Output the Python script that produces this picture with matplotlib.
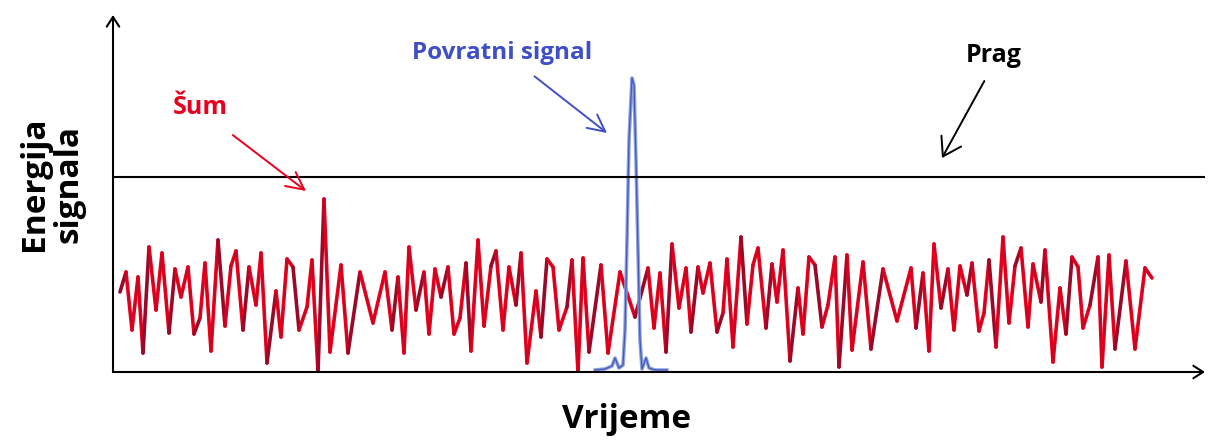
import matplotlib.pyplot as plt
from matplotlib.collections import LineCollection
import numpy as np

# vremenske točke i energija šuma (očitano sa slike)
noise_t = [7, 13, 19, 25, 30, 36, 43, 49, 56, 62, 68, 75, 81, 87, 92, 98, 105, 112, 118, 123,
           130, 136, 143, 148, 154, 163, 168, 174, 180, 186, 194, 199, 205, 211, 217, 228, 235, 247, 260,
           272, 279, 285, 291, 296, 303, 311, 316, 322, 328, 335, 341, 347, 353, 358, 365, 371, 378, 383,
           390, 396, 403, 408, 414, 423, 428, 434, 440, 446, 454, 459, 465, 470, 476, 488, 495, 507, 522,
           535, 541, 547, 553, 559, 566, 573, 578, 585, 590, 597, 604, 610, 614, 620, 628, 634, 640, 645,
           653, 659, 664, 670, 677, 685, 690, 696, 702, 709, 715, 722, 726, 734, 739, 750, 758, 770, 784,
           798, 803, 810, 816, 821, 828, 835, 841, 847, 854, 859, 866, 871, 876, 883, 890, 896, 902, 908,
           915, 920, 928, 932, 940, 947, 953, 959, 965, 970, 977, 985, 989, 996, 1002, 1013, 1022, 1032, 1039]
noise_e = [80, 100, 42, 95, 19, 125, 62, 119, 39, 103, 75, 105, 38, 54, 109, 21, 132, 46, 106, 121,
           42, 105, 67, 119, 9, 81, 35, 113, 105, 42, 65, 112, 0, 173, 20, 107, 19, 100, 49,
           100, 42, 95, 19, 125, 62, 100, 38, 103, 75, 105, 38, 54, 109, 21, 132, 46, 106, 121,
           42, 105, 67, 119, 9, 81, 35, 113, 105, 42, 65, 112, 0, 114, 20, 107, 19, 100, 55,
           104, 44, 99, 20, 128, 64, 104, 40, 105, 79, 109, 40, 59, 113, 25, 135, 48, 107, 124,
           44, 108, 70, 122, 11, 84, 38, 115, 107, 45, 67, 115, 5, 117, 22, 110, 23, 103, 51,
           104, 44, 99, 21, 128, 64, 103, 42, 106, 77, 109, 41, 59, 112, 25, 135, 49, 106, 124,
           45, 108, 70, 122, 10, 84, 38, 115, 105, 44, 67, 115, 5, 117, 23, 111, 23, 104, 94]

# povratni signal
echo_t = [482, 492, 499, 502, 506, 510, 512, 514, 516, 519, 521, 523, 525, 527, 529, 533, 536, 542, 554]
echo_e = [2, 3, 6, 14, 4, 7, 42, 132, 232, 294, 287, 212, 122, 32, 3, 14, 4, 2, 2]

prag = 195
t_max, e_max = 1092, 357

RED = '#e8001c'
DARK_RED = '#9a0a28'
BLUE = '#3f4fc8'

fig = plt.figure(figsize=(12.08, 4.41), dpi=100)
ax = fig.add_axes([113 / 1208, 69 / 441, t_max / 1208, e_max / 441])
ax.set_xlim(0, t_max)
ax.set_ylim(0, e_max)
ax.axis('off')

# šum: crvena linija s tamnijim vrhovima
pts = np.column_stack([noise_t, noise_e])
segs = np.stack([pts[:-1], pts[1:]], axis=1)
cols = [DARK_RED if i % 4 == 0 else RED for i in range(len(segs))]
ax.add_collection(LineCollection(segs, colors=cols, linewidths=2.6, capstyle='round', joinstyle='round'))
ax.plot(noise_t, noise_e, color=DARK_RED, lw=0.7, alpha=0.45)

# povratni signal
ax.plot(echo_t, echo_e, color='#8ea2e0', lw=2.6)
ax.plot(echo_t, echo_e, color='#4458b8', lw=0.9)

# prag
ax.plot([0, t_max - 1], [prag, prag], color='black', lw=1.5)

# osi sa strelicama
arrow = dict(arrowstyle='->,head_length=0.7,head_width=0.45', color='black', lw=1.5, shrinkA=0, shrinkB=0)
ax.annotate('', xy=(0, e_max), xytext=(0, 0), arrowprops=arrow, annotation_clip=False)
ax.annotate('', xy=(t_max, 0), xytext=(0, 0), arrowprops=arrow, annotation_clip=False)

font = 'Open Sans'
ax.annotate('Šum', xy=(193, 181), xytext=(87, 264), color=RED, fontsize=18, fontweight='bold',
            family=font, ha='center', va='center',
            arrowprops=dict(arrowstyle='->,head_length=0.7,head_width=0.35', color=RED, lw=1.4,
                            shrinkA=14, shrinkB=0, relpos=(0.75, 0)))
ax.annotate('Povratni signal', xy=(494, 239), xytext=(389, 319), color=BLUE, fontsize=17.5,
            fontweight='bold', family=font, ha='center', va='center',
            arrowprops=dict(arrowstyle='->,head_length=0.7,head_width=0.35', color=BLUE, lw=1.4,
                            shrinkA=10, shrinkB=0, relpos=(0.6, 0)))
ax.annotate('Prag', xy=(829, 214), xytext=(881, 316), color='black', fontsize=18, fontweight='bold',
            family=font, ha='center', va='center',
            arrowprops=dict(arrowstyle='->,head_length=0.7,head_width=0.45', color='black', lw=1.4,
                            shrinkA=8, shrinkB=0, relpos=(0.45, 0)))

ax.text(514, -48, 'Vrijeme', fontsize=24, fontweight='bold', family=font,
        ha='center', va='center', clip_on=False)
ax.text(-61, 188, 'Energija\nsignala', fontsize=24, fontweight='bold', family=font, rotation=90,
        ha='center', va='center', linespacing=1.05, multialignment='center', clip_on=False)

fig.savefig('out.png', dpi=100)
